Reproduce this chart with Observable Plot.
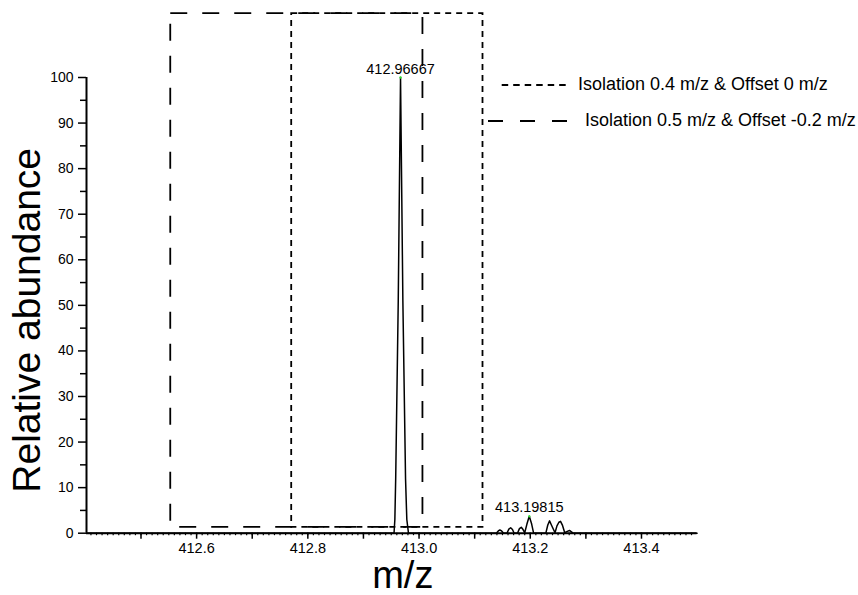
<!DOCTYPE html>
<html><head><meta charset="utf-8">
<script src="https://cdn.jsdelivr.net/npm/d3@7"></script>
<script src="https://cdn.jsdelivr.net/npm/@observablehq/plot@0.6"></script>
<style>
body{margin:0;background:#fff;}
#wrap{position:relative;width:858px;height:595px;font-family:"Liberation Sans",Arial,sans-serif;}
#legend{position:absolute;left:0;top:0;pointer-events:none;}
</style></head><body><div id="wrap"></div>
<script>
// Spectrum (m/z, relative abundance)
const mz = [412.402, 412.955, 412.9565, 412.958, 412.9626, 412.9667, 412.9709, 412.9757, 412.978, 412.981,
  413.139, 413.1425, 413.1453, 413.1485, 413.152,
  413.158, 413.1615, 413.1647, 413.168, 413.171,
  413.177, 413.1805, 413.1838, 413.187, 413.190,
  413.194, 413.1982, 413.2025, 413.206,
  413.228, 413.2315, 413.2347, 413.238, 413.2445, 413.248, 413.2515, 413.2544, 413.258, 413.262,
  413.2665, 413.2706, 413.274, 413.277, 413.5];
const abundance = [0, 0, 3, 12, 51, 100, 51, 12, 3, 0,
  0, 0.5, 0.7, 0.5, 0,
  0, 0.9, 1.2, 0.8, 0,
  0, 1.0, 1.3, 0.8, 0.1,
  2.0, 3.7, 2.0, 0,
  0, 1.8, 2.7, 1.8, 0.1, 1.6, 2.4, 2.6, 1.7, 0.1,
  0.4, 0.6, 0.3, 0, 0];

// Peak annotations
const peakLabels = ["412.96667", "413.19815"];
const peakMz = [412.9667, 413.1982];
const peakAbund = [100, 3.7];

// Isolation windows
const windowNames = ["Isolation 0.4 m/z & Offset 0 m/z", "Isolation 0.5 m/z & Offset -0.2 m/z"];
const windowLo = [412.771, 412.5535];
const windowHi = [413.115, 413.007];
const windowBottom = [1.3, 1.3];
const windowTop = [114, 114];

// Ticks
const xMajor = [412.6, 412.8, 413.0, 413.2, 413.4];
const xMid = [412.5, 412.7, 412.9, 413.1, 413.3];
const xMinor = d3.range(41241, 41350).map(d => d / 100);
const yMajor = [0, 10, 20, 30, 40, 50, 60, 70, 80, 90, 100];
const yMinor = [5, 15, 25, 35, 45, 55, 65, 75, 85, 95];

const spectrum = mz.map((m, i) => ({mz: m, ab: abundance[i]}));
const peaks = peakLabels.map((t, i) => ({label: t, mz: peakMz[i], ab: peakAbund[i]}));
const win = windowNames.map((n, i) => ({name: n, lo: windowLo[i], hi: windowHi[i], b: windowBottom[i], t: windowTop[i]}));
const dashes = ["6,5", "17,15"];
const legendDashes = ["6.5,5", "15,17"];

const font = '"Liberation Sans", Arial, sans-serif';
const chart = Plot.plot({
  width: 858, height: 595,
  marginLeft: 86, marginRight: 161.4, marginTop: 77, marginBottom: 62.3,
  x: {domain: [412.402, 413.5]},
  y: {domain: [0, 100]},
  style: {fontFamily: font, fontSize: "14px", color: "black", background: "white"},
  marks: [
    Plot.rect([win[1]], {x1: "lo", x2: "hi", y1: "b", y2: "t", fill: "none", stroke: "black", strokeWidth: 1.8, strokeDasharray: dashes[1]}),
    Plot.rect([win[0]], {x1: "lo", x2: "hi", y1: "b", y2: "t", fill: "none", stroke: "black", strokeWidth: 1.8, strokeDasharray: dashes[0]}),
    Plot.ruleY([0], {stroke: "black", strokeWidth: 2}),
    Plot.ruleX([412.402], {y1: 0, y2: 100, stroke: "black", strokeWidth: 2}),
    Plot.line(spectrum, {x: "mz", y: "ab", stroke: "black", strokeWidth: 1.5}),
    Plot.axisY({ticks: yMajor, tickSize: 8, tickPadding: 5, tickFormat: "d", label: null, strokeWidth: 1.5, fontSize: 14}),
    Plot.axisY({ticks: yMinor, tickSize: 6, tickFormat: () => "", label: null, strokeWidth: 1.5}),
    Plot.axisX({ticks: xMajor, tickSize: 6, tickPadding: 4, tickFormat: ".1f", label: null, strokeWidth: 1.5, fontSize: 14.5}),
    Plot.axisX({ticks: xMid, tickSize: 6, tickFormat: () => "", label: null, strokeWidth: 1.5}),
    Plot.axisX({ticks: xMinor, tickSize: 2.5, tickFormat: () => "", label: null, strokeWidth: 1.2}),
    Plot.dot(peaks, {x: "mz", y: "ab", r: 1.2, fill: "#33dd33", stroke: "none"}),
    Plot.text(peaks, {x: "mz", y: "ab", text: "label", dy: -4, lineAnchor: "bottom", fontSize: 14.5}),
    Plot.text(["Relative abundance"], {frameAnchor: "left", textAnchor: "middle", lineAnchor: "middle", rotate: -90, dx: -58.5, dy: 15, fontSize: 39}),
    Plot.text(["m/z"], {frameAnchor: "bottom", dx: 11, dy: 28, lineAnchor: "top", fontSize: 38})
  ]
});
const wrap = document.getElementById("wrap");
wrap.appendChild(chart);

// Legend overlay
const leg = d3.select(wrap).append("svg").attr("id", "legend").attr("width", 858).attr("height", 595);
const legendPos = [{x1: 501.7, x2: 568.3, y: 85, tx: 578, ty: 90}, {x1: 488, x2: 567, y: 121, tx: 585, ty: 126}];
windowNames.forEach((n, i) => {
  const p = legendPos[i];
  leg.append("line").attr("x1", p.x1).attr("x2", p.x2).attr("y1", p.y).attr("y2", p.y)
    .attr("stroke", "black").attr("stroke-width", 1.8).attr("stroke-dasharray", legendDashes[i]);
  leg.append("text").attr("x", p.tx).attr("y", p.ty).attr("font-family", font).attr("font-size", 18).attr("fill", "black").text(n);
});
</script></body></html>
